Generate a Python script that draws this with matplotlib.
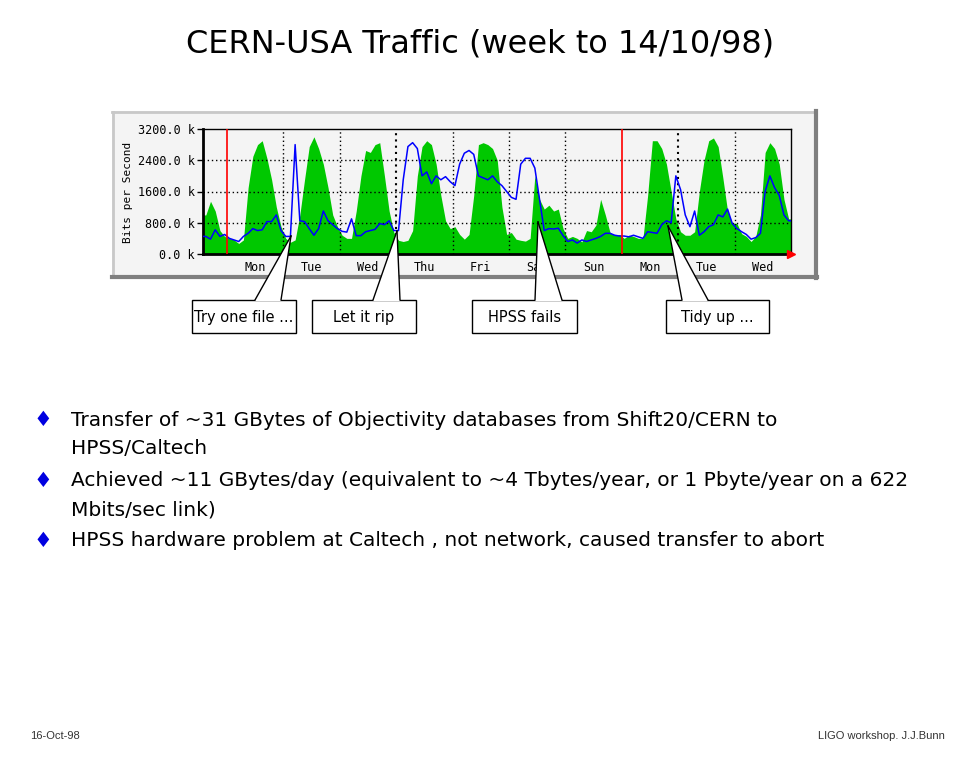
import numpy as np
import matplotlib
matplotlib.use('Agg')
import matplotlib.pyplot as plt
from matplotlib.patches import Rectangle, Polygon
from matplotlib.lines import Line2D

W, H = 960, 768

# two-hour samples, hour 0 = first Monday 00:00
hours = np.arange(-10, 240, 2)

# incoming traffic (green), k bits/s
incoming = [1000, 1350, 1100, 600, 450,
            400, 360, 270, 360, 1700, 2500, 2800, 2900, 2450, 1900, 1200, 700,
            400, 300, 360, 1000, 1900, 2750, 3000, 2700, 2300, 1700, 1000, 700,
            480, 400, 400, 1100, 2000, 2650, 2600, 2800, 2850, 2000, 1100, 550,
            350, 320, 350, 600, 2000, 2750, 2900, 2800, 2300, 1500, 850, 650,
            700, 500, 380, 500, 1500, 2800, 2850, 2800, 2700, 2400, 1200, 500,
            550, 380, 350, 330, 400, 2000, 1400, 1150, 1250, 1100, 1150, 650,
            400, 450, 400, 310, 600, 570, 740, 1400, 1000, 550, 480, 500,
            400, 480, 450, 400, 400, 1500, 2900, 2900, 2700, 2300, 1600, 900,
            570, 480, 480, 570, 1600, 2400, 2900, 2970, 2750, 1950, 1100, 800,
            780, 520, 450, 320, 450, 1000, 2600, 2850, 2700, 2300, 1400, 900]

# outgoing traffic (blue), k bits/s
outgoing = [450, 380, 620, 450, 500,
            400, 360, 320, 450, 530, 650, 600, 620, 830, 830, 1000, 600,
            450, 450, 2800, 850, 830, 650, 480, 650, 1100, 850, 750, 650,
            580, 560, 900, 470, 470, 570, 600, 630, 780, 750, 850, 600,
            600, 1900, 2750, 2850, 2700, 2000, 2100, 1800, 2000, 1900, 1980, 1850,
            1750, 2300, 2580, 2650, 2550, 2000, 1950, 1900, 2000, 1850, 1750, 1600,
            1450, 1400, 2300, 2450, 2450, 2200, 1400, 600, 650, 640, 660, 470,
            320, 360, 280, 360, 320, 360, 400, 450, 530, 530, 480, 460,
            460, 440, 480, 440, 400, 570, 550, 530, 750, 850, 800, 2000,
            1650, 1000, 700, 1100, 480, 570, 700, 750, 1000, 950, 1150, 780,
            650, 570, 500, 380, 420, 530, 1600, 2000, 1700, 1500, 1000, 850]

day_names = ['Mon', 'Tue', 'Wed', 'Thu', 'Fri', 'Sat', 'Sun', 'Mon', 'Tue', 'Wed']
day_centres = [12, 36, 60, 84, 108, 132, 156, 180, 204, 228]
day_lines = [24, 48, 72, 96, 120, 144, 192, 216]
week_lines = [0, 168]
y_ticks = [0, 800, 1600, 2400, 3200]
y_labels = ['0.0 k', '800.0 k', '1600.0 k', '2400.0 k', '3200.0 k']

callout_text = ['Try one file ...', 'Let it rip', 'HPSS fails', 'Tidy up ...']

bullets = [
    ['Transfer of ~31 GBytes of Objectivity databases from Shift20/CERN to',
     'HPSS/Caltech'],
    ['Achieved ~11 GBytes/day (equivalent to ~4 Tbytes/year, or 1 Pbyte/year on a 622',
     'Mbits/sec link)'],
    ['HPSS hardware problem at Caltech , not network, caused transfer to abort'],
]


def fx(x):
    return x / W


def fy(y):
    return 1 - y / H


fig = plt.figure(figsize=(9.6, 7.68), dpi=100, facecolor='white')

# grey MRTG panel
panel = Rectangle((fx(112), fy(278)), (816 - 112) / W, (278 - 111) / H,
                  transform=fig.transFigure, facecolor='#f4f4f4',
                  edgecolor='none', zorder=-2)
fig.add_artist(panel)
fig.add_artist(Line2D([fx(112), fx(816)], [fy(112), fy(112)], color='#c8c8c8', lw=2, zorder=-1))
fig.add_artist(Line2D([fx(113), fx(113)], [fy(112), fy(277)], color='#c8c8c8', lw=2, zorder=-1))
fig.add_artist(Line2D([fx(112), fx(817)], [fy(277), fy(277)], color='#7f7f7f', lw=3, zorder=-1))
fig.add_artist(Line2D([fx(816), fx(816)], [fy(111), fy(278)], color='#7f7f7f', lw=3, zorder=-1))

ax = fig.add_axes([fx(203), fy(254), 588 / W, 125 / H], zorder=1)
ax.set_facecolor('#f4f4f4')

# samples drawn at the middle of each two-hour slot, held flat to the edges
xs = np.concatenate([[-10.2], hours + 1, [240]])
green = np.concatenate([[incoming[0]], incoming, [incoming[-1]]])
blue = np.concatenate([[outgoing[0]], outgoing, [outgoing[-1]]])
ax.fill_between(xs, green, color='#00c800', lw=0, zorder=1)
ax.plot(xs, blue, color='#0000ff', lw=1.1, zorder=3)

for v in y_ticks[1:-1]:
    ax.axhline(v, color='black', lw=1, ls=(0, (1, 2)), zorder=2)
for d in day_lines:
    ax.axvline(d, color='black', lw=1.5 if d in (72, 192) else 1, ls=(0, (1, 2)), zorder=2)
for d in week_lines:
    ax.axvline(d, color='#ff0000', lw=1.2, zorder=4)

ax.set_xlim(-10.2, 240)
ax.set_ylim(0, 3200)
for s in ax.spines.values():
    s.set_color('black')
    s.set_linewidth(1)
ax.spines['left'].set_linewidth(2)
ax.spines['bottom'].set_linewidth(2)

ax.set_yticks(y_ticks, y_labels)
ax.set_xticks(day_centres, day_names)
ax.tick_params(axis='y', length=4, width=1, pad=2, labelsize=8.5)
ax.tick_params(axis='x', length=0, pad=5, labelsize=8.5)
for lab in ax.get_xticklabels() + ax.get_yticklabels():
    lab.set_fontfamily('DejaVu Sans Mono')
ax.plot([240], [0], marker='>', color='#ff0000', ms=6, clip_on=False, zorder=6)

fig.text(fx(128), fy(192), 'Bits per Second', rotation=90, ha='center', va='center',
         fontsize=8, family='DejaVu Sans Mono')

# callout boxes with pointer wedges
boxes = [(192, 296), (312, 416), (472, 577), (666, 769)]
wedges = [((255, 281), (291, 236)), ((373, 400), (397, 231)),
          ((535, 562), (538, 222)), ((682, 708), (668, 226))]
for text, (x0, x1), ((b0, b1), (tx, ty)) in zip(callout_text, boxes, wedges):
    fig.add_artist(Rectangle((fx(x0), fy(333)), (x1 - x0) / W, 33 / H,
                             transform=fig.transFigure, facecolor='white',
                             edgecolor='black', lw=1, zorder=5))
    fig.add_artist(Polygon([(fx(b0), fy(301)), (fx(b1), fy(301)), (fx(tx), fy(ty))],
                           closed=True, transform=fig.transFigure, facecolor='white',
                           edgecolor='none', zorder=6))
    fig.add_artist(Line2D([fx(b0), fx(tx)], [fy(300), fy(ty)], color='black', lw=1, zorder=7))
    fig.add_artist(Line2D([fx(b1), fx(tx)], [fy(300), fy(ty)], color='black', lw=1, zorder=7))
    fig.text(fx((x0 + x1) / 2), fy(317), text, ha='center', va='center',
             fontsize=10.5, zorder=8)

fig.text(0.5, fy(44), 'CERN-USA Traffic (week to 14/10/98)', ha='center', va='center',
         fontsize=23)

for lines, y in zip(bullets, [420, 481, 541]):
    fig.text(fx(43), fy(y), '\u2666', color='#0000e0', ha='center', va='center', fontsize=15)
    for i, line in enumerate(lines):
        fig.text(fx(71), fy(y + 29 * i), line, ha='left', va='center', fontsize=14.5)

fig.text(fx(30), fy(736), '16-Oct-98', ha='left', va='center', fontsize=8,
         family=['Liberation Sans Narrow', 'Liberation Sans'], color='#333333')
fig.text(fx(945), fy(736), 'LIGO workshop. J.J.Bunn', ha='right', va='center', fontsize=8,
         family=['Liberation Sans Narrow', 'Liberation Sans'], color='#333333')

fig.savefig('out.png', dpi=100, facecolor='white')
